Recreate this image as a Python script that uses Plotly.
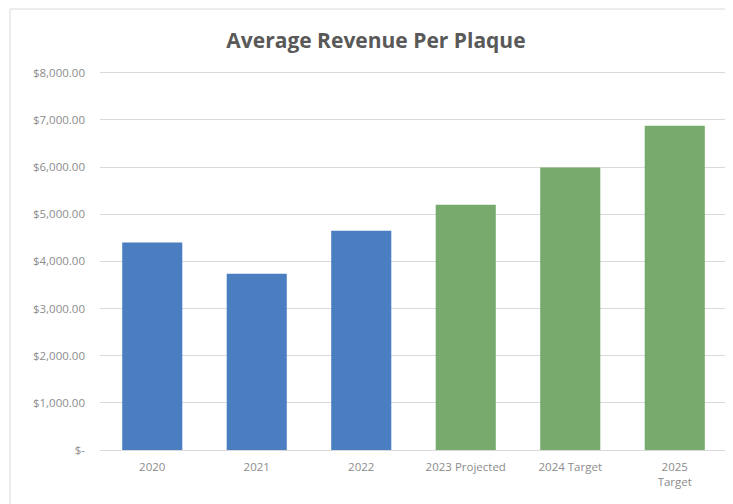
import plotly.graph_objects as go

categories = ["2020", "2021", "2022", "2023 Projected", "2024 Target", "2025<br>Target"]
values = [4400, 3740, 4650, 5200, 5990, 6880]
bar_colors = ["#4A7EC0", "#4A7EC0", "#4A7EC0", "#77AA6C", "#77AA6C", "#77AA6C"]
tick_vals = [0, 1000, 2000, 3000, 4000, 5000, 6000, 7000, 8000]
tick_text = ["$-", "$1,000.00", "$2,000.00", "$3,000.00", "$4,000.00",
             "$5,000.00", "$6,000.00", "$7,000.00", "$8,000.00"]

fig = go.Figure(go.Bar(x=categories, y=values, marker=dict(color=bar_colors, line=dict(width=0)),
                       width=0.575))

fig.update_layout(
    width=733, height=504,
    margin=dict(l=92, r=14, t=62, b=62, autoexpand=False),
    paper_bgcolor="white", plot_bgcolor="white",
    font=dict(family="Open Sans, Lato, sans-serif", color="#8C8C8C", size=11),
    title=dict(text="<b>Average Revenue Per Plaque</b>", x=0.502, xanchor="center",
               y=0.936, yanchor="middle",
               font=dict(size=21, color="#595959", family="Open Sans, Lato, sans-serif")),
    showlegend=False,
    bargap=0.425,
)
fig.update_xaxes(showline=True, linecolor="#D9D9D9", linewidth=1, ticks="outside", ticklen=6,
                 tickcolor="rgba(0,0,0,0)",
                 tickfont=dict(size=11.5, color="#8C8C8C"), showgrid=False, automargin=False)
fig.update_yaxes(range=[0, 8060], tickvals=tick_vals, ticktext=tick_text,
                 showgrid=True, gridcolor="#D9D9D9", gridwidth=1, zeroline=False,
                 ticks="", ticklen=0, tickfont=dict(size=11.5, color="#8C8C8C"),
                 ticklabelstandoff=14, automargin=False)
fig.add_shape(type="rect", xref="paper", yref="paper", x0=-0.1435, x1=1.005, y0=-0.3, y1=1.1605,
              line=dict(color="#D9D9D9", width=1), fillcolor="rgba(0,0,0,0)", layer="below")

fig.write_html("out.html")
